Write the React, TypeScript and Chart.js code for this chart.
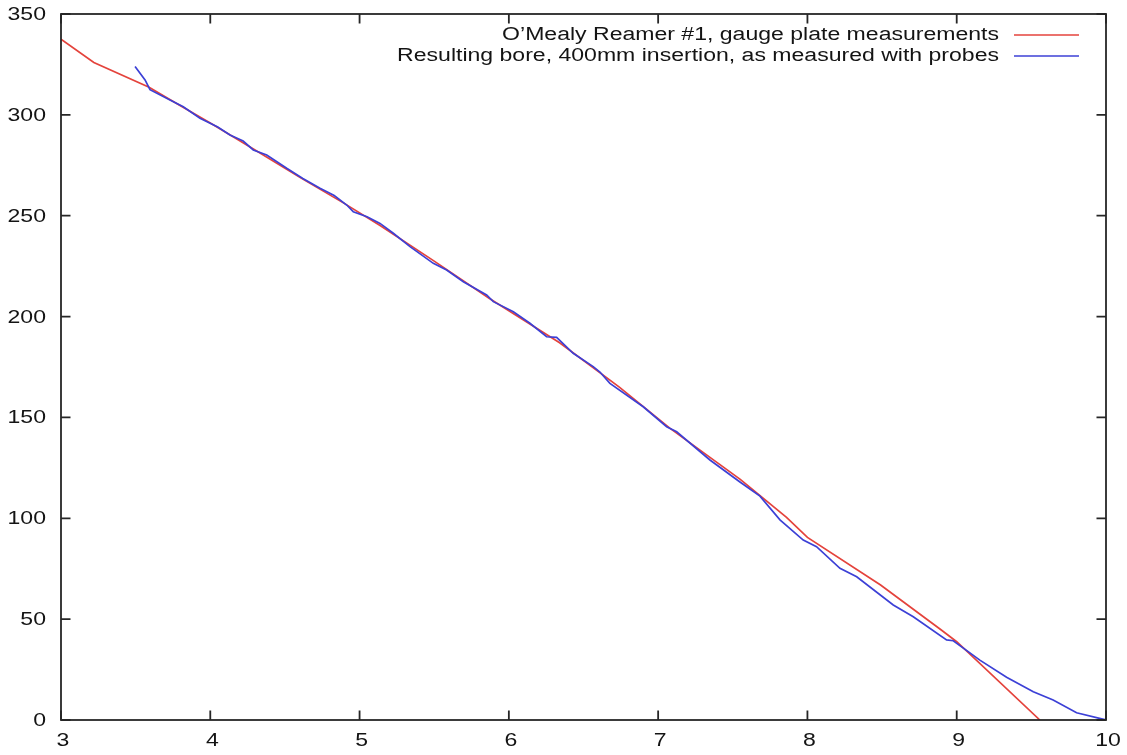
import React, { useEffect, useRef } from "react";
import { Chart, registerables } from "chart.js";

Chart.register(...registerables);

// Gauge plate readings of the reamer profile
const reamerX = [3.0, 3.22, 3.59, 3.8, 4.0, 4.3, 4.6, 4.9, 5.14, 5.5, 5.87, 6.34, 6.74, 7.08, 7.55, 7.86, 8.0, 8.49, 8.89, 9.0, 9.557];
const reamerY = [337.5, 326, 313.7, 304.5, 296, 282.6, 269, 256, 245, 227.5, 209, 187, 165, 144.6, 119.3, 100.5, 90.5, 66.9, 45, 38.8, 0];

// Probe readings of the resulting bore
const boreX = [3.496, 3.563, 3.596, 3.73, 3.819, 3.931, 4.05, 4.132, 4.22, 4.288, 4.378, 4.512, 4.62, 4.735, 4.83, 4.914, 4.958, 5.05, 5.137, 5.226, 5.338, 5.494, 5.583, 5.695, 5.851, 5.896, 6.03, 6.141, 6.253, 6.32, 6.431, 6.565, 6.61, 6.677, 6.9, 7.057, 7.124, 7.347, 7.548, 7.682, 7.816, 7.972, 8.061, 8.218, 8.33, 8.575, 8.709, 8.932, 8.977, 9.155, 9.334, 9.513, 9.646, 9.803, 10.0];
const boreY = [324, 317.3, 312.5, 307.4, 304, 298.3, 294, 290, 287, 282.6, 280.1, 273.5, 268.5, 263.6, 260, 255.3, 252, 249.5, 246.2, 241.3, 234.7, 226.4, 223.1, 217.3, 210.7, 207.4, 202.4, 196.7, 190, 189.7, 181.8, 175.2, 172.5, 166.9, 155.3, 145.4, 142.9, 128.9, 118, 111, 99.2, 89.2, 85.9, 75.2, 71, 57, 51.2, 39.7, 39.3, 29.7, 21.2, 14, 9.9, 3.6, 0];

const xTicks = [3, 4, 5, 6, 7, 8, 9, 10];
const yTicks = [0, 50, 100, 150, 200, 250, 300, 350];

const seriesLabels = [
  "O\u2019Mealy Reamer #1, gauge plate measurements",
  "Resulting bore, 400mm insertion, as measured with probes",
];
const seriesColors = ["#e4433c", "#3c40d6"];

const FONT = '18px "Liberation Sans", Arial, sans-serif';
const TEXT_SX = 1.28;
const INK = "#141414";

function wideText(
  ctx: CanvasRenderingContext2D,
  text: string,
  x: number,
  y: number,
  align: CanvasTextAlign
) {
  ctx.save();
  ctx.translate(x, y);
  ctx.scale(TEXT_SX, 1);
  ctx.textAlign = align;
  ctx.textBaseline = "middle";
  ctx.fillText(text, 0, 0);
  ctx.restore();
}

// Frame, inward ticks, tick labels and key, drawn in the gnuplot manner
const framePlugin = {
  id: "frame",
  afterDatasetsDraw(chart: any) {
    const { ctx, chartArea: a, scales } = chart;
    const xs = scales.x;
    const ys = scales.y;
    const tickLen = 9.5;
    ctx.save();
    ctx.strokeStyle = "#262626";
    ctx.lineWidth = 1.8;
    ctx.strokeRect(a.left, a.top, a.right - a.left, a.bottom - a.top);

    ctx.beginPath();
    xTicks.forEach((v) => {
      const px = xs.getPixelForValue(v);
      ctx.moveTo(px, a.bottom);
      ctx.lineTo(px, a.bottom - tickLen);
      ctx.moveTo(px, a.top);
      ctx.lineTo(px, a.top + tickLen);
    });
    yTicks.forEach((v) => {
      const py = ys.getPixelForValue(v);
      ctx.moveTo(a.left, py);
      ctx.lineTo(a.left + tickLen, py);
      ctx.moveTo(a.right, py);
      ctx.lineTo(a.right - tickLen, py);
    });
    ctx.stroke();

    ctx.fillStyle = INK;
    ctx.font = FONT;
    xTicks.forEach((v) => {
      wideText(ctx, String(v), xs.getPixelForValue(v) + 2, a.bottom + 21, "center");
    });
    yTicks.forEach((v) => {
      wideText(ctx, String(v), a.left - 15, ys.getPixelForValue(v) + 1, "right");
    });

    // key in the upper right corner
    const keyTextRight = a.right - 107;
    const sampleLeft = a.right - 92;
    const sampleRight = a.right - 27;
    seriesLabels.forEach((label, i) => {
      const y = a.top + 21 + i * 21;
      ctx.fillStyle = INK;
      wideText(ctx, label, keyTextRight, y, "right");
      ctx.strokeStyle = seriesColors[i];
      ctx.lineWidth = 1.6;
      ctx.beginPath();
      ctx.moveTo(sampleLeft, y);
      ctx.lineTo(sampleRight, y);
      ctx.stroke();
    });
    ctx.restore();
  },
};

export default function App() {
  const canvasRef = useRef<HTMLCanvasElement | null>(null);

  useEffect(() => {
    const canvas = canvasRef.current;
    if (!canvas) return;
    const reamer = reamerX.map((x, i) => ({ x, y: reamerY[i] }));
    const bore = boreX.map((x, i) => ({ x, y: boreY[i] }));

    const chart = new Chart(canvas, {
      type: "scatter",
      data: {
        datasets: [
          {
            label: seriesLabels[0],
            data: reamer,
            showLine: true,
            borderColor: seriesColors[0],
            borderWidth: 1.7,
            pointRadius: 0,
            tension: 0,
            order: 2,
          },
          {
            label: seriesLabels[1],
            data: bore,
            showLine: true,
            borderColor: seriesColors[1],
            borderWidth: 1.7,
            pointRadius: 0,
            tension: 0,
            order: 1,
          },
        ],
      },
      options: {
        animation: false,
        responsive: false,
        maintainAspectRatio: false,
        events: [],
        layout: { padding: { left: 0, top: 14, right: 21, bottom: 0 } },
        plugins: {
          legend: { display: false },
          tooltip: { enabled: false },
        },
        scales: {
          x: {
            type: "linear",
            min: 3,
            max: 10,
            grid: { display: false },
            border: { display: false },
            ticks: { display: false },
            afterFit: (s: any) => {
              s.height = 35;
            },
          },
          y: {
            type: "linear",
            min: 0,
            max: 350,
            grid: { display: false },
            border: { display: false },
            ticks: { display: false },
            afterFit: (s: any) => {
              s.width = 61;
            },
          },
        },
      },
      plugins: [framePlugin],
    });

    return () => chart.destroy();
  }, []);

  return (
    <div style={{ position: "fixed", left: 0, top: 0, width: 1127, height: 755, background: "#ffffff" }}>
      <canvas ref={canvasRef} width={1127} height={755} style={{ display: "block" }} />
    </div>
  );
}
